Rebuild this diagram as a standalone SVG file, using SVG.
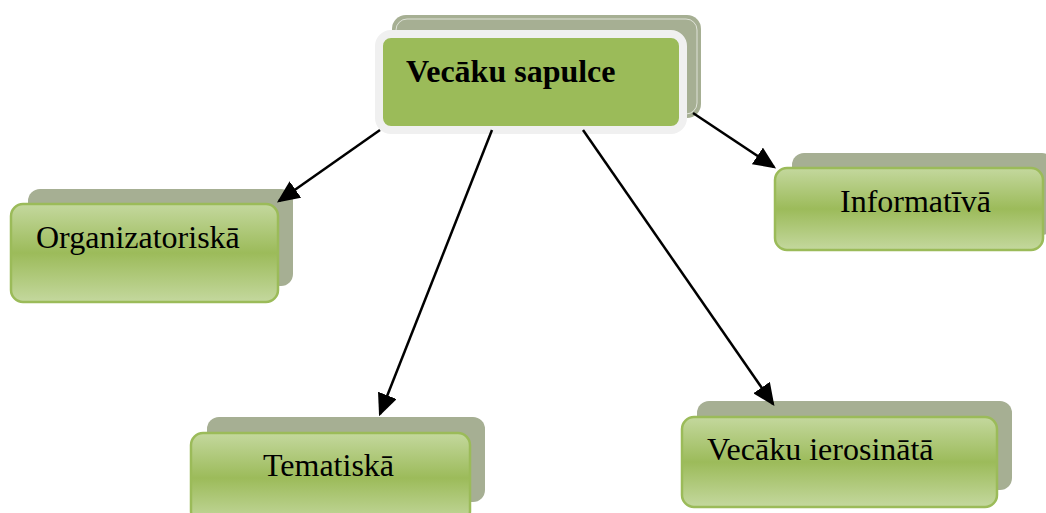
<svg xmlns="http://www.w3.org/2000/svg" width="1046" height="513" viewBox="0 0 1046 513">
<style>
.shadow{fill:#A6AF93;}
.box{fill:url(#g);stroke:#9BBB59;stroke-width:2.5;}
.lbl{font-family:"Liberation Serif","Times New Roman",serif;font-size:32px;fill:#000;}
.conn{stroke:#000;stroke-width:2.5;fill:none;marker-end:url(#ah);}
</style>
<defs>
<linearGradient id="g" x1="0" y1="0" x2="0" y2="1">
<stop offset="0" stop-color="#C4D89E"/>
<stop offset="0.5" stop-color="#9CBB5A"/>
<stop offset="1" stop-color="#C4D89E"/>
</linearGradient>
<marker id="ah" markerWidth="9" markerHeight="8" refX="8" refY="4" orient="auto" markerUnits="strokeWidth">
<path d="M0,0 L9,4 L0,8 Z" fill="#000"/>
</marker>
</defs>
<rect width="1046" height="513" fill="#fff"/>
<g id="node-main">
<rect class="shadow" x="392" y="15" width="309" height="103" rx="14"/>
<rect x="396" y="19" width="301" height="95" rx="11" fill="none" stroke="#fff" stroke-width="0.8" opacity="0.8"/>
<rect x="379" y="34" width="304" height="96" rx="12" fill="#9BBB59" stroke="#F0F0F0" stroke-width="8"/>
<text x="406" y="82" class="lbl" font-weight="bold">Vecāku sapulce</text>
</g>
<g id="node-org">
<rect class="shadow" x="28" y="189" width="265" height="97" rx="12"/>
<rect class="box" x="11" y="204" width="267" height="98" rx="12"/>
<text x="36" y="248" class="lbl">Organizatoriskā</text>
</g>
<g id="node-info">
<rect class="shadow" x="792" y="153" width="262" height="82" rx="12"/>
<rect class="box" x="775" y="168" width="268" height="82" rx="12"/>
<text x="840" y="212" class="lbl">Informatīvā</text>
</g>
<g id="node-tem">
<rect class="shadow" x="207" y="417" width="278" height="85" rx="12"/>
<rect class="box" x="191" y="433" width="279" height="90" rx="12"/>
<text x="263" y="476" class="lbl">Tematiskā</text>
</g>
<g id="node-ier">
<rect class="shadow" x="697" y="401" width="315" height="89" rx="12"/>
<rect class="box" x="682" y="417" width="315" height="90" rx="12"/>
<text x="707" y="460" class="lbl">Vecāku ierosinātā</text>
</g>
<g id="connectors">
<line class="conn" x1="380" y1="130" x2="279" y2="201"/>
<line class="conn" x1="492" y1="130" x2="380" y2="414"/>
<line class="conn" x1="583" y1="130" x2="773" y2="404"/>
<line class="conn" x1="693" y1="113" x2="774" y2="167"/>
</g>
</svg>
